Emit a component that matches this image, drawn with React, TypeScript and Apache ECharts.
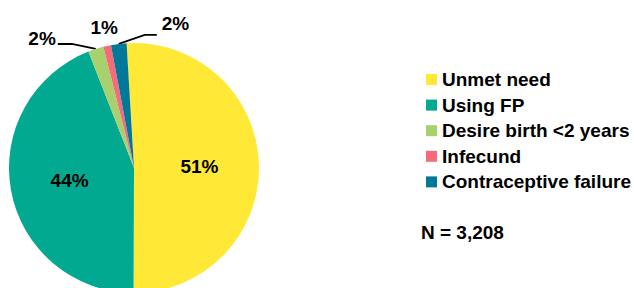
import React, { useEffect, useRef } from "react";
import * as echarts from "echarts";

const categories = ["Unmet need", "Using FP", "Desire birth <2 years", "Infecund", "Contraceptive failure"];
const values = [51, 44, 2, 1, 2];
const colors = ["#FFE936", "#00A98F", "#A8D06E", "#F56B7A", "#00789A"];
const insideLabels = [true, true, false, false, false];
const sampleNote = "N = 3,208";

const CX = 134;
const CY = 168;
const R = 125;
const START = 93.4;
const FONT = "'Liberation Sans', Arial, Helvetica, sans-serif";

function midAngle(i: number): number {
  const total = values.reduce((s, v) => s + v, 0);
  let cum = 0;
  for (let k = 0; k < i; k++) cum += values[k];
  return START - (360 * (cum + values[i] / 2)) / total;
}

export default function App() {
  const ref = useRef<HTMLDivElement>(null);
  useEffect(() => {
    if (!ref.current) return;
    const chart = echarts.init(ref.current, undefined, { renderer: "svg" });
    const data = categories.map((name, i) => ({
      name,
      value: values[i],
      itemStyle: { color: colors[i] },
      label: { position: insideLabels[i] ? "inside" : "outside" },
      labelLine: { show: i === 2 || i === 4 },
    }));
    chart.setOption({
      animation: false,
      legend: {
        orient: "vertical",
        left: 421,
        top: 65,
        icon: "rect",
        itemWidth: 11,
        itemHeight: 11,
        itemGap: 6.6,
        data: categories,
        textStyle: {
          fontFamily: FONT,
          fontSize: 19,
          fontWeight: "bold",
          color: "#000",
          lineHeight: 19,
        },
      },
      graphic: [
        {
          type: "text",
          x: 421,
          y: 232,
          style: {
            text: sampleNote,
            font: `bold 19px ${FONT}`,
            fill: "#000",
            textVerticalAlign: "middle",
          },
        },
      ],
      series: [
        {
          type: "pie",
          center: [CX, CY],
          radius: [0, R],
          startAngle: START,
          clockwise: true,
          avoidLabelOverlap: false,
          data,
          label: {
            show: true,
            formatter: "{c}%",
            fontFamily: FONT,
            fontSize: 19,
            fontWeight: "bold",
            color: "#000",
          },
          labelLine: {
            show: true,
            lineStyle: { color: "#000", width: 1.8 },
          },
          labelLayout: (params: any) => {
            const i = params.dataIndex;
            if (insideLabels[i]) return {};
            const a = (midAngle(i) * Math.PI) / 180;
            const px = CX + R * Math.cos(a);
            const py = CY - R * Math.sin(a);
            if (i === 2) {
              return {
                x: px - 40,
                y: py - 10,
                align: "right",
                verticalAlign: "middle",
                labelLinePoints: [
                  [px, py],
                  [px - 24, py - 5],
                  [px - 38, py - 5],
                ],
              };
            }
            if (i === 3) {
              return { x: px - 3, y: py - 18, align: "center", verticalAlign: "middle" };
            }
            return {
              x: px + 43,
              y: py - 20,
              align: "left",
              verticalAlign: "middle",
              labelLinePoints: [
                [px, py],
                [px + 26, py - 9],
                [px + 38, py - 9],
              ],
            };
          },
        },
      ],
    });
    return () => chart.dispose();
  }, []);
  return (
    <div
      ref={ref}
      style={{ position: "fixed", left: 0, top: 0, width: 634, height: 288, background: "#fff" }}
    />
  );
}
